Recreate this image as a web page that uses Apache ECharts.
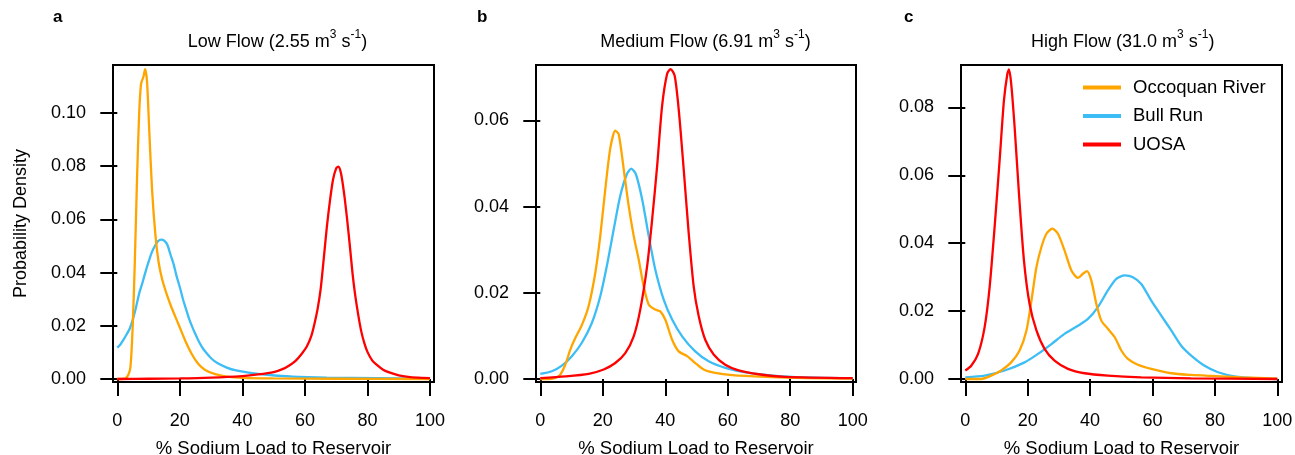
<!DOCTYPE html>
<html><head><meta charset="utf-8">
<script src="https://cdn.jsdelivr.net/npm/echarts@6/dist/echarts.min.js"></script>
<style>html,body{margin:0;padding:0;background:#fff}#c{width:1295px;height:455px}</style>
</head><body><div id="c"></div>
<script>
// ---------- DATA ----------
const seriesNames = ['Occoquan River', 'Bull Run', 'UOSA'];
const panelLetters = ['a', 'b', 'c'];
const flowLabels = ['Low Flow', 'Medium Flow', 'High Flow'];
const flowRates = ['2.55', '6.91', '31.0'];
const xAxisTitle = '% Sodium Load to Reservoir';
const yAxisTitle = 'Probability Density';
const xTicks = [0, 20, 40, 60, 80, 100];
const yTicksLow = [0, 0.02, 0.04, 0.06, 0.08, 0.10];
const yTicksMedium = [0, 0.02, 0.04, 0.06];
const yTicksHigh = [0, 0.02, 0.04, 0.06, 0.08];

// Low flow
const lowOccoquan = [[0,0],[1,0],[2,0.0001],[2.6,0.0002],[3.5,0.0015],[4.2,0.0045],[4.9,0.019],[5.6,0.044],[6.3,0.075],[7.0,0.100],[7.6,0.111],[8.4,0.1138],[8.9,0.1165],[9.5,0.112],[10.2,0.094],[11.1,0.0715],[12.2,0.054],[13.2,0.044],[14.3,0.0377],[15.9,0.0315],[17.5,0.0264],[19.6,0.0205],[21.7,0.0145],[23.9,0.0092],[26,0.0055],[28.1,0.0034],[31.3,0.0018],[35,0.0009],[40,0.0004],[50,0.0002],[70,0.0001],[100,0]];
const lowBullRun = [[0,0.0118],[1,0.013],[2,0.0148],[3,0.0168],[4,0.019],[5,0.0225],[6,0.027],[7,0.0322],[8,0.036],[9,0.0402],[10,0.044],[11,0.0475],[12,0.05],[13,0.0518],[14,0.0524],[15,0.052],[16,0.0505],[17,0.0468],[18,0.0432],[19,0.0385],[20,0.0345],[21,0.03],[22,0.0262],[23,0.0225],[24,0.0195],[25,0.0168],[26,0.0143],[27,0.0122],[28,0.0105],[30,0.0078],[32,0.006],[35,0.0043],[38,0.0032],[42,0.0024],[48,0.0016],[56,0.0009],[67,0.0005],[83,0.0003],[100,0.0001]];
const lowUOSA = [[0,0],[10,0.0001],[20,0.0002],[30,0.0005],[40,0.0011],[45,0.0017],[50,0.0026],[53,0.0038],[55,0.0051],[57,0.0068],[59,0.0095],[60.6,0.0122],[62,0.016],[63,0.0205],[64,0.026],[65,0.0335],[66,0.045],[67,0.057],[68,0.067],[69,0.075],[70,0.0792],[70.7,0.0798],[71.5,0.0775],[72.5,0.07],[73.5,0.06],[74.4,0.0497],[75.2,0.04],[76,0.0322],[77,0.0245],[78,0.018],[79,0.0135],[80,0.0102],[81.5,0.007],[83,0.0053],[85,0.0035],[87.2,0.0024],[90,0.0014],[93,0.0008],[96,0.0005],[100,0.0003]];

// Medium flow
const mediumOccoquan = [[0,0],[3,0],[5,0.0003],[6.4,0.001],[8,0.0033],[9.6,0.0068],[11.2,0.0095],[13.3,0.0125],[15.5,0.017],[17.6,0.0246],[19.2,0.0332],[20.8,0.0440],[22.4,0.0535],[24,0.0576],[25.1,0.0568],[26.7,0.0487],[28.3,0.0401],[29.9,0.0332],[31.5,0.0277],[33.1,0.0215],[34.7,0.0173],[36.8,0.0161],[38.4,0.0157],[40,0.0138],[42.2,0.0091],[44.3,0.0064],[47,0.0053],[49.6,0.0037],[52.3,0.0022],[56,0.0014],[61.4,0.0009],[72,0.0005],[85,0.0002],[100,0.0001]];
const mediumBullRun = [[0,0.0012],[3.7,0.0018],[6.9,0.0031],[10.1,0.0053],[13.3,0.0084],[16.5,0.013],[19.2,0.0192],[21.3,0.0262],[23.5,0.0347],[25.6,0.0425],[27.7,0.0475],[29.1,0.0488],[30.6,0.0475],[32.6,0.0417],[34.7,0.0332],[36.8,0.0254],[39.5,0.0184],[42.2,0.0138],[45.4,0.0099],[49.6,0.0064],[53.9,0.0041],[59.2,0.0026],[66.7,0.0014],[77.4,0.0006],[88,0.0003],[100,0.0002]];
const mediumUOSA = [[0,0.0002],[8,0.0006],[15.5,0.0012],[20.3,0.0022],[24,0.0037],[27.2,0.006],[29.9,0.0099],[32,0.0161],[34.2,0.0262],[35.8,0.037],[37.4,0.0494],[39,0.0634],[40.6,0.0708],[41.7,0.0719],[43,0.0704],[44.3,0.0626],[45.9,0.0487],[47.5,0.0339],[49.1,0.0215],[50.7,0.0146],[52.8,0.0091],[55.5,0.0057],[59.2,0.0033],[63.5,0.002],[69.9,0.0011],[78.4,0.0005],[100,0.0002]];

// High flow
const highOccoquan = [[0,0],[5.1,0],[8.3,0.001],[11.5,0.0025],[14.7,0.0049],[17.4,0.0084],[19.6,0.0143],[21.2,0.0231],[22.8,0.033],[24.4,0.0389],[26,0.0428],[27.9,0.0443],[29.7,0.0428],[31.8,0.0379],[34,0.032],[36.1,0.0298],[37.7,0.031],[39,0.0318],[40.4,0.029],[42,0.0221],[43.6,0.0172],[45.7,0.0148],[47.9,0.0123],[50,0.0084],[52.1,0.0059],[55.3,0.0042],[59.6,0.003],[66,0.0017],[72.4,0.0012],[78.8,0.0009],[88.5,0.0005],[100,0.0001]];
const highBullRun = [[0,0.0005],[6.2,0.001],[12.6,0.0025],[19,0.0049],[23.3,0.0074],[27.6,0.0103],[31.8,0.0133],[36.1,0.0157],[39.3,0.0177],[42.5,0.0212],[45.7,0.0261],[48.4,0.0295],[51.1,0.0305],[53.7,0.03],[56.4,0.028],[59.6,0.0231],[62.8,0.0187],[66,0.0143],[69.2,0.0098],[72.4,0.0069],[76.7,0.0039],[81,0.002],[86.3,0.0008],[93.8,0.0002],[100,0]];
const highUOSA = [[0,0.0025],[1.9,0.0039],[4.1,0.0074],[6.2,0.0153],[7.8,0.0271],[9.4,0.0448],[11,0.0644],[12.4,0.0822],[13.5,0.09],[14,0.0912],[14.7,0.0871],[15.8,0.0743],[17.2,0.0546],[18.8,0.0349],[20.6,0.0221],[22.8,0.0143],[25.4,0.0089],[28.6,0.0054],[32.9,0.003],[38.2,0.0017],[45.7,0.001],[56.4,0.0005],[72.4,0.0002],[100,0]];

// ---------- LAYOUT / STYLE ----------
const FONT = "'Liberation Sans', Arial, Helvetica, sans-serif";
const colors = {'Occoquan River': '#FFA500', 'Bull Run': '#3DBDF5', 'UOSA': '#FF0000'};
const panels = [
  {data: {'Occoquan River': lowOccoquan, 'Bull Run': lowBullRun, 'UOSA': lowUOSA}, yTicks: yTicksLow,
   xExt: [-1.375, 101.28], yExt: [-0.00113, 0.11805],
   box: {left: 113, top: 65, width: 321, height: 317}, titleX: 277.5, letterX: 53},
  {data: {'Occoquan River': mediumOccoquan, 'Bull Run': mediumBullRun, 'UOSA': mediumUOSA}, yTicks: yTicksMedium,
   xExt: [-1.376, 101.06], yExt: [-0.0007, 0.07285],
   box: {left: 536, top: 65, width: 320, height: 317}, titleX: 705.5, letterX: 477},
  {data: {'Occoquan River': highOccoquan, 'Bull Run': highBullRun, 'UOSA': highUOSA}, yTicks: yTicksHigh,
   xExt: [-1.378, 101.5], yExt: [-0.00088, 0.0925],
   box: {left: 961, top: 65, width: 321, height: 317}, titleX: 1122.7, letterX: 904}
];
const drawOrder = ['Bull Run', 'Occoquan River', 'UOSA'];

const grid = [], xAxis = [], yAxis = [], series = [], title = [];
panels.forEach((p, i) => {
  grid.push(Object.assign({show: true, borderColor: '#000', borderWidth: 2, backgroundColor: 'transparent',
    containLabel: false, outerBoundsMode: 'none'}, p.box));
  xAxis.push({
    gridIndex: i, type: 'value', min: p.xExt[0], max: p.xExt[1],
    axisLine: {show: false}, splitLine: {show: false},
    axisTick: {show: true, length: 17, lineStyle: {color: '#000', width: 2}, customValues: xTicks},
    axisLabel: {color: '#000', fontSize: 18, fontFamily: FONT, margin: 30, customValues: xTicks,
      formatter: v => String(Math.round(v))},
    name: xAxisTitle, nameLocation: 'middle', nameGap: 57,
    nameTextStyle: {color: '#000', fontSize: 18.5, fontFamily: FONT}
  });
  const ya = {
    gridIndex: i, type: 'value', min: p.yExt[0], max: p.yExt[1],
    axisLine: {show: false}, splitLine: {show: false},
    axisTick: {show: true, length: 17, lineStyle: {color: '#000', width: 2}, customValues: p.yTicks},
    axisLabel: {color: '#000', fontSize: 18, fontFamily: FONT, margin: 27, customValues: p.yTicks,
      formatter: v => v.toFixed(2)}
  };
  if (i === 0) {
    Object.assign(ya, {name: yAxisTitle, nameLocation: 'middle', nameGap: 83,
      nameTextStyle: {color: '#000', fontSize: 18, fontFamily: FONT}});
  }
  yAxis.push(ya);
  drawOrder.forEach((name, k) => {
    series.push({
      type: 'line', name: name, xAxisIndex: i, yAxisIndex: i,
      data: p.data[name], symbol: 'none', showSymbol: false, smooth: 0.25,
      color: colors[name], lineStyle: {color: colors[name], width: 2.3}, z: 3 + k
    });
  });
  title.push({
    text: '{n|' + flowLabels[i] + ' (' + flowRates[i] + ' m}{s|3}{n| s}{s|-1}{n|)}',
    left: p.titleX, top: 29, textAlign: 'center', padding: 0,
    textStyle: {fontWeight: 'normal', rich: {
      n: {fontSize: 18, fontFamily: FONT, fontWeight: 'normal', color: '#000', lineHeight: 22, verticalAlign: 'bottom'},
      s: {fontSize: 12, fontFamily: FONT, fontWeight: 'normal', color: '#000', lineHeight: 14, verticalAlign: 'top'}
    }}
  });
  title.push({
    text: panelLetters[i], left: p.letterX, top: 9, padding: 0,
    textStyle: {fontSize: 17, fontWeight: 'bold', fontFamily: FONT, color: '#000'}
  });
});

const chart = echarts.init(document.getElementById('c'), null, {renderer: 'canvas'});
chart.setOption({
  animation: false,
  backgroundColor: '#fff',
  title: title,
  grid: grid, xAxis: xAxis, yAxis: yAxis, series: series,
  legend: {
    data: seriesNames.map(n => ({name: n, icon: 'rect'})),
    orient: 'vertical', left: 1083, top: 78, padding: 0,
    itemWidth: 38, itemHeight: 4, itemGap: 9.5, selectedMode: false,
    textStyle: {fontSize: 18.5, fontFamily: FONT, color: '#000', padding: [0, 0, 0, 7]}
  }
});
</script>
</body></html>
